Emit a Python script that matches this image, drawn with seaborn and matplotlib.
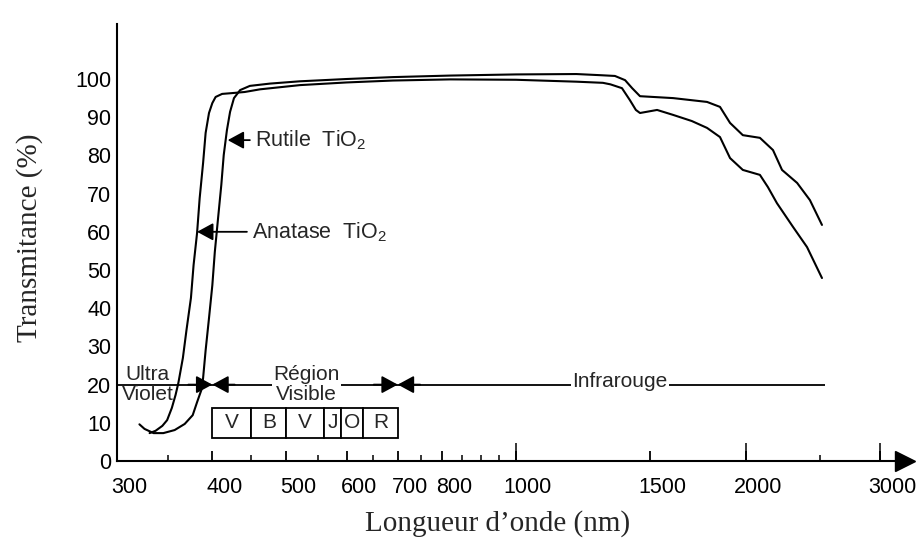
import numpy as np
import pandas as pd
import matplotlib.pyplot as plt
import matplotlib.transforms as mtransforms
import seaborn as sns
from matplotlib.ticker import FixedLocator, NullFormatter, NullLocator

# transmittance curves (wavelength nm, %)
anatase_wl = [331, 337, 344, 349, 354, 358, 361, 366, 370, 375, 378, 382, 385, 389,
              392, 396, 400, 404, 412, 424, 441, 462, 521, 600, 690, 820, 1000, 1200,
              1300, 1330, 1377, 1410, 1436, 1454, 1531, 1607, 1700, 1780, 1851, 1908,
              1983, 2088, 2139, 2198, 2307, 2407, 2518]
anatase_t = [7.3, 7.9, 9.2, 10.7, 13.9, 17.3, 20.4, 27.0, 34.3, 42.7, 51.3, 59.7, 68.8, 78.0,
             85.9, 91.1, 93.7, 95.3, 96.1, 96.3, 96.6, 97.3, 98.4, 99.1, 99.6, 99.9, 99.8, 99.3,
             99.0, 98.6, 97.6, 94.5, 91.9, 91.1, 91.9, 90.6, 89.0, 87.2, 84.8, 79.3,
             76.2, 74.9, 71.7, 67.5, 61.3, 56.0, 47.9]

rutile_wl = [321, 326, 335, 345, 357, 368, 377, 382, 387, 389, 392, 396, 400, 403, 407,
             411, 414, 418, 422, 427, 435, 448, 476, 521, 600, 690, 820, 1000, 1200, 1290,
             1348, 1390, 1420, 1454, 1607, 1780, 1851, 1908, 1983, 2088, 2172, 2232, 2336,
             2428, 2518]
rutile_t = [9.6, 8.4, 7.3, 7.3, 8.1, 9.7, 12.0, 15.4, 18.6, 21.7, 29.0, 37.4, 46.0, 54.7, 63.6,
            72.3, 80.1, 86.6, 91.4, 95.0, 97.1, 98.2, 98.8, 99.4, 100.0, 100.5, 100.9, 101.2, 101.3, 101.0,
            100.8, 99.7, 97.6, 95.5, 95.0, 94.0, 92.7, 88.5, 85.3, 84.6, 81.4, 76.2, 72.8,
            68.3, 61.8]

# spectral regions (UV | visible | IR) drawn on the 20 % level
region_edges = [300, 400, 700, 2540]
region_level = 20

# visible colour band boxes
band_edges = [400, 450, 500, 560, 590, 630, 700]
band_letters = ["V", "B", "V", "J", "O", "R"]
band_low, band_high = 6, 14

xticks = [300, 400, 500, 600, 700, 800, 1000, 1500, 2000, 3000]
xticks_minor = [350, 450, 550, 650, 750, 850, 900, 950, 2500]
xticks_long = [1000, 2000, 3000]
yticks = list(range(0, 101, 10))
yticks_marked = [10, 50, 100]

sns.set_style("white")
plt.rcParams["font.family"] = ["Liberation Sans", "DejaVu Sans"]
plt.rcParams["mathtext.fontset"] = "custom"
plt.rcParams["mathtext.rm"] = "Liberation Sans"
plt.rcParams["mathtext.default"] = "regular"

fig = plt.figure(figsize=(9.22, 5.52), dpi=100)
ax = fig.add_axes([117 / 922, 1 - 461 / 552, 788 / 922, 437 / 552])

df = pd.concat([
    pd.DataFrame({"wl": anatase_wl, "T": anatase_t, "phase": "Anatase"}),
    pd.DataFrame({"wl": rutile_wl, "T": rutile_t, "phase": "Rutile"}),
])
sns.lineplot(data=df, x="wl", y="T", units="phase", estimator=None, sort=False,
             color="black", lw=1.5, ax=ax)

ax.set_xscale("log")
ax.set_xlim(300, 3235)
ax.set_ylim(0, 114.4)

# x ticks (labels sit a little right of their ticks, as in the scan)
ax.set_xticks(xticks)
ax.set_xticklabels([str(t) for t in xticks])
ax.xaxis.set_minor_locator(FixedLocator(xticks_minor))
ax.xaxis.set_minor_formatter(NullFormatter())
ax.tick_params(axis="x", which="major", bottom=True, direction="in", length=7, width=1.3,
               pad=11.5, labelsize=15.5, colors="black")
ax.tick_params(axis="x", which="minor", bottom=True, direction="in", length=4, width=1.3)
shift = mtransforms.ScaledTranslation(0.12, 0, fig.dpi_scale_trans)
for lab in ax.get_xticklabels():
    lab.set_transform(lab.get_transform() + shift)
sec = ax.secondary_xaxis("bottom")
sec.set_xticks(xticks_long)
sec.xaxis.set_minor_locator(NullLocator())
sec.tick_params(bottom=True, direction="in", length=13, width=1.3, labelbottom=False)
sec.spines["bottom"].set_visible(False)

# y ticks
ax.set_yticks(yticks)
ax.yaxis.set_minor_locator(FixedLocator(yticks_marked))
ax.tick_params(axis="y", which="major", left=True, length=0, pad=4, labelsize=15.5,
               colors="black")
ax.tick_params(axis="y", which="minor", left=True, direction="in", length=13, width=1.3)

for side in ["top", "right"]:
    ax.spines[side].set_visible(False)
for side in ["left", "bottom"]:
    ax.spines[side].set_linewidth(1.5)
    ax.spines[side].set_color("black")
ax.plot(1, 0, ">k", ms=14, transform=ax.get_yaxis_transform(), clip_on=False)
ax.plot(0, 1, "^k", ms=14, transform=ax.get_xaxis_transform(), clip_on=False)

serif = ["Liberation Serif", "DejaVu Serif"]
ax.set_xlabel("Longueur d’onde (nm)", fontsize=21, family=serif)
ax.xaxis.set_label_coords(0.4835, -0.112)
ax.set_ylabel("Transmitance (%)", fontsize=21, family=serif)
ax.yaxis.set_label_coords(-0.094, 0.51)

# region line with bow-tie arrowheads
ax.hlines(region_level, region_edges[0], region_edges[-1], color="black", lw=1.3)
head = dict(arrowstyle="-|>,head_length=0.7,head_width=0.38", mutation_scale=14,
            color="black", lw=1.3, shrinkA=0, shrinkB=0)
for edge in region_edges[1:3]:
    ax.annotate("", xy=(edge, region_level), xytext=(edge * 0.93, region_level), arrowprops=head)
    ax.annotate("", xy=(edge, region_level), xytext=(edge * 1.07, region_level), arrowprops=head)

ax.text(329, region_level, "Ultra\nViolet", ha="center", va="center", fontsize=15,
        linespacing=1.1)
ax.text(532, region_level, "Région\nVisible", ha="center", va="center", fontsize=15,
        linespacing=1.1, bbox=dict(fc="white", ec="none", pad=1))
ax.text(1369, region_level + 0.8, "Infrarouge", ha="center", va="center", fontsize=15,
        bbox=dict(fc="white", ec="none", pad=1))

# colour band boxes
ax.bar(band_edges[:-1], band_high - band_low, width=np.diff(band_edges), bottom=band_low,
       align="edge", color="white", edgecolor="black", lw=1.3)
for lo, hi, letter in zip(band_edges[:-1], band_edges[1:], band_letters):
    ax.text(np.sqrt(lo * hi), (band_low + band_high) / 2, letter, ha="center", va="center",
            fontsize=15)

# curve labels
ax.annotate("", xy=(419, 84), xytext=(448, 84), arrowprops=head)
ax.text(455, 84, "Rutile  TiO$_2$", ha="left", va="center", fontsize=15.5)
ax.annotate("", xy=(382, 60), xytext=(444, 60), arrowprops=head)
ax.text(451, 60, "Anatase  TiO$_2$", ha="left", va="center", fontsize=15.5)

fig.savefig("out.png", dpi=100)
